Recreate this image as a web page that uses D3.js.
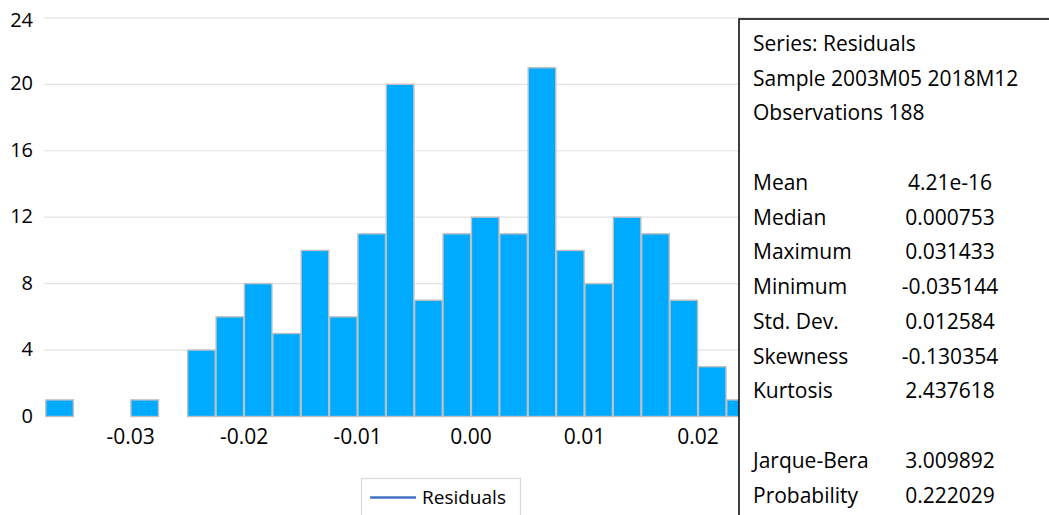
<!DOCTYPE html>
<html>
<head>
<meta charset="utf-8">
<script src="https://cdn.jsdelivr.net/npm/d3@7"></script>
<style>
  html, body { margin: 0; padding: 0; background: #fff; }
  svg { display: block; }
  text { font-family: "Open Sans", Lato, sans-serif; fill: #000; }
</style>
</head>
<body>
<svg id="chart" width="1049" height="515"></svg>
<script>
// Histogram bins of the residuals (lower edge of each 0.0025-wide bin) and their counts
const binStarts = [-0.0375, -0.035, -0.0325, -0.03, -0.0275, -0.025, -0.0225, -0.02, -0.0175, -0.015,
                   -0.0125, -0.01, -0.0075, -0.005, -0.0025, 0.0, 0.0025, 0.005, 0.0075, 0.01,
                   0.0125, 0.015, 0.0175, 0.02, 0.0225, 0.025, 0.0275, 0.03];
const counts    = [1, 0, 0, 1, 0, 4, 6, 8, 5, 10,
                   6, 11, 20, 7, 11, 12, 11, 21, 10, 8,
                   12, 11, 7, 3, 1, 0, 1, 1];
const binWidth = 0.0025;

// Axis ticks
const xTickValues = [-0.03, -0.02, -0.01, 0.0, 0.01, 0.02];
const xTickLabels = ["-0.03", "-0.02", "-0.01", "0.00", "0.01", "0.02"];
const yTickValues = [0, 4, 8, 12, 16, 20, 24];

// Descriptive statistics panel
const headerLines = ["Series: Residuals", "Sample 2003M05 2018M12", "Observations 188"];
const statNames   = ["Mean", "Median", "Maximum", "Minimum", "Std. Dev.", "Skewness", "Kurtosis"];
const statValues  = ["4.21e-16", "0.000753", "0.031433", "-0.035144", "0.012584", "-0.130354", "2.437618"];
const testNames   = ["Jarque-Bera", "Probability"];
const testValues  = ["3.009892", "0.222029"];

const seriesName = "Residuals";

const svg = d3.select("#chart");

const x = d3.scaleLinear().domain([-0.0375, 0.0325]).range([45.4, 839.9]);
const y = d3.scaleLinear().domain([0, 24]).range([416.5, 17.9]);

// Horizontal gridlines (none at zero)
svg.append("g")
  .selectAll("line")
  .data(yTickValues.filter(d => d > 0))
  .join("line")
  .attr("x1", 44).attr("x2", 1049)
  .attr("y1", d => y(d)).attr("y2", d => y(d))
  .attr("stroke", "#e3e3e3").attr("stroke-width", 1.2);

// Y tick labels
svg.append("g")
  .selectAll("text")
  .data(yTickValues)
  .join("text")
  .attr("x", 33).attr("y", d => y(d) + (d === 24 ? 2 : -1))
  .attr("dy", "0.35em")
  .attr("text-anchor", "end")
  .style("font-size", "20px")
  .text(d => d);

// Bars
const bars = binStarts.map((b, i) => ({ x0: b, x1: b + binWidth, n: counts[i] })).filter(d => d.n > 0);
svg.append("g")
  .selectAll("rect")
  .data(bars)
  .join("rect")
  .attr("x", d => x(d.x0) + 0.4)
  .attr("width", d => x(d.x1) - x(d.x0) - 0.8)
  .attr("y", d => y(d.n))
  .attr("height", d => y(0) - y(d.n))
  .attr("fill", "#00aaff")
  .attr("stroke", "#c0c0c0")
  .attr("stroke-width", 1.4);

// X tick labels
svg.append("g")
  .selectAll("text")
  .data(xTickValues)
  .join("text")
  .attr("x", d => x(d))
  .attr("y", 437)
  .attr("dy", "0.35em")
  .attr("text-anchor", "middle")
  .style("font-size", "21px")
  .text((d, i) => xTickLabels[i]);

// Legend
const lg = svg.append("g");
lg.append("rect")
  .attr("x", 361.5).attr("y", 478.5).attr("width", 159).attr("height", 60)
  .attr("fill", "#fff").attr("stroke", "#d9d9d9").attr("stroke-width", 1.2);
lg.append("line")
  .attr("x1", 370).attr("x2", 416).attr("y1", 497.5).attr("y2", 497.5)
  .attr("stroke", "#4472c4").attr("stroke-width", 2.5);
lg.append("text")
  .attr("x", 422).attr("y", 497).attr("dy", "0.35em")
  .style("font-size", "19px")
  .text(seriesName);

// Statistics panel
const panel = svg.append("g");
panel.append("rect")
  .attr("x", 739).attr("y", 19).attr("width", 340).attr("height", 520)
  .attr("fill", "#fff").attr("stroke", "#000").attr("stroke-width", 1.5);

const lineStep = 34.75;
const firstLine = 43.5;
const rows = [];
headerLines.forEach((t, i) => rows.push({ name: t, value: null, row: i }));
statNames.forEach((t, i) => rows.push({ name: t, value: statValues[i], row: 4 + i }));
testNames.forEach((t, i) => rows.push({ name: t, value: testValues[i], row: 12 + i }));

panel.selectAll("text.name")
  .data(rows)
  .join("text")
  .attr("class", "name")
  .attr("x", 753)
  .attr("y", d => firstLine + d.row * lineStep)
  .attr("dy", "0.35em")
  .style("font-size", "21px")
  .text(d => d.name);

panel.selectAll("text.value")
  .data(rows.filter(d => d.value !== null))
  .join("text")
  .attr("class", "value")
  .attr("x", 950)
  .attr("y", d => firstLine + d.row * lineStep)
  .attr("dy", "0.35em")
  .attr("text-anchor", "middle")
  .style("font-size", "21px")
  .text(d => d.value);
</script>
</body>
</html>
